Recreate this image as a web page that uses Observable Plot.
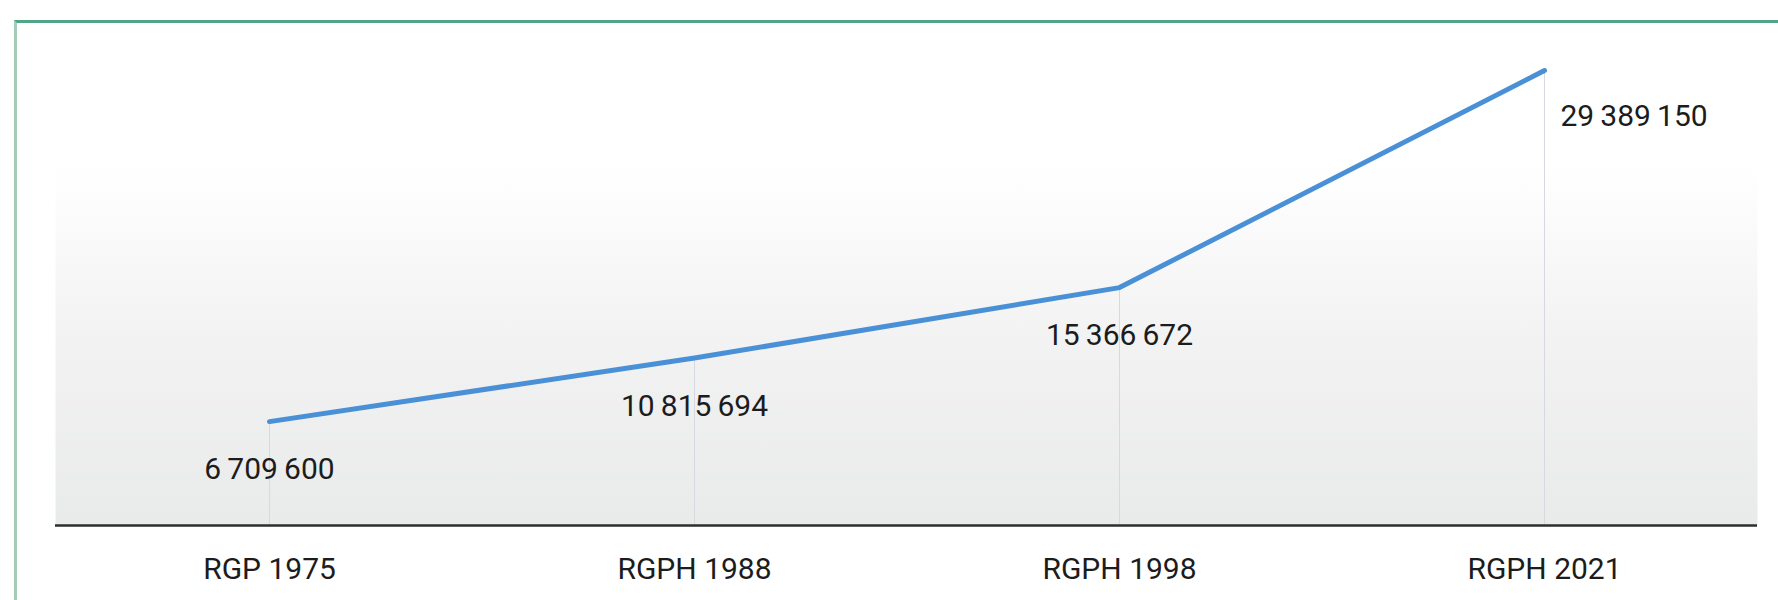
<!DOCTYPE html>
<html>
<head>
<meta charset="utf-8">
<script src="https://cdn.jsdelivr.net/npm/d3@7"></script>
<script src="https://cdn.jsdelivr.net/npm/@observablehq/plot@0.6"></script>
<style>
  html, body { margin: 0; padding: 0; background: #fff; }
  #wrap { position: relative; width: 1778px; height: 600px; overflow: hidden; }
  #border { position: absolute; left: 14px; top: 20px; right: -10px; bottom: -10px;
            border-top: 3px solid #52a688; border-left: 3px solid #a3cdb9; pointer-events: none; }
  #chart { position: absolute; left: 0; top: 0; }
  svg text { font-family: Roboto, "Noto Sans", sans-serif; }
</style>
</head>
<body>
<div id="wrap"><div id="chart"></div><div id="border"></div></div>
<script>
const censuses = ["RGP 1975", "RGPH 1988", "RGPH 1998", "RGPH 2021"];
const population = [6709600, 10815694, 15366672, 29389150];

const data = censuses.map((c, i) => ({census: c, pop: population[i], last: i === censuses.length - 1}));
const fmt = v => d3.format(",")(v).replace(/,/g, "\u2009");

const chart = Plot.plot({
  width: 1778,
  height: 600,
  marginTop: 165,
  marginBottom: 75,
  marginLeft: 55,
  marginRight: 21,
  style: {fontFamily: "Roboto, sans-serif", color: "#1c1c1c", background: "transparent"},
  x: {type: "point", domain: censuses, padding: 0.5, label: null},
  y: {domain: [0, 29389150], range: [525, 70], axis: null},
  marks: [
    Plot.frame({fill: "url(#bgGrad)", stroke: null}),
    Plot.ruleX(data, {x: "census", y1: 0, y2: "pop", stroke: "#d6dade", strokeWidth: 1}),
    Plot.ruleY([0], {stroke: "#2e2e2e", strokeWidth: 2.5}),
    Plot.axisX({tickSize: 0, tickPadding: 32, fontSize: 30, fill: "#1c1c1c", label: null}),
    Plot.line(data, {x: "census", y: "pop", stroke: "#4a90d6", strokeWidth: 5, strokeLinejoin: "round", strokeLinecap: "round"}),
    Plot.text(data.filter(d => !d.last), {x: "census", y: "pop", text: d => fmt(d.pop), dy: 48, fontSize: 30, fill: "#1c1c1c", lineAnchor: "middle", textAnchor: "middle"}),
    Plot.text(data.filter(d => d.last), {x: "census", y: "pop", text: d => fmt(d.pop), dy: 46, dx: 16, fontSize: 30, fill: "#1c1c1c", lineAnchor: "middle", textAnchor: "start"})
  ]
});

const ns = "http://www.w3.org/2000/svg";
const defs = document.createElementNS(ns, "defs");
const grad = document.createElementNS(ns, "linearGradient");
grad.setAttribute("id", "bgGrad");
grad.setAttribute("x1", "0"); grad.setAttribute("y1", "0");
grad.setAttribute("x2", "0"); grad.setAttribute("y2", "1");
[["0%", "#ffffff"], ["45%", "#f3f3f3"], ["100%", "#e9eaea"]].forEach(([o, c]) => {
  const s = document.createElementNS(ns, "stop");
  s.setAttribute("offset", o); s.setAttribute("stop-color", c);
  grad.appendChild(s);
});
defs.appendChild(grad);
chart.insertBefore(defs, chart.firstChild);

document.getElementById("chart").appendChild(chart);
</script>
</body>
</html>
